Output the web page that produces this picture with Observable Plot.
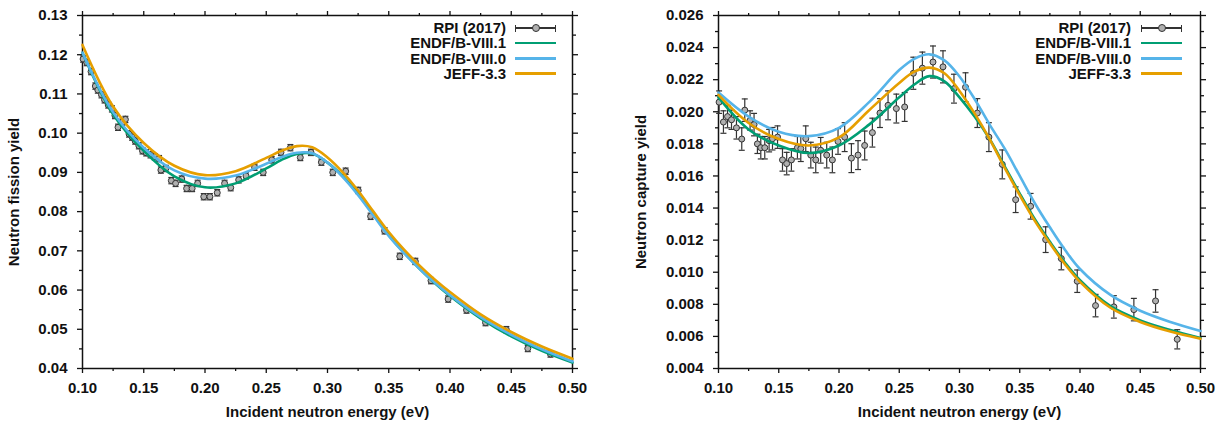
<!DOCTYPE html>
<html>
<head>
<meta charset="utf-8">
<script src="https://cdn.jsdelivr.net/npm/d3@7"></script>
<script src="https://cdn.jsdelivr.net/npm/@observablehq/plot@0.6"></script>
<style>
  body { margin: 0; background: #fff; font-family: "Liberation Sans", Arial, sans-serif; }
  #wrap { position: relative; width: 1217px; height: 421px; overflow: hidden; background: #fff; }
  .panel { position: absolute; top: 0; }
  .lg-text { position: absolute; width: 220px; text-align: right; font-weight: bold; font-size: 15px; line-height: 18px; color: #111; white-space: nowrap; }
  .lg-line { position: absolute; height: 2.6px; }
  .lg-bar { position: absolute; height: 1.2px; background: #333; }
  .lg-cap { position: absolute; width: 1.2px; height: 7px; background: #333; }
  .lg-dot { position: absolute; width: 6px; height: 6px; border-radius: 50%; background: #b0b0b0; border: 1px solid #333; }
</style>
</head>
<body>
<div id="wrap"></div>
<script>
// ---------- shared ----------
const seriesNames = ["RPI (2017)", "ENDF/B-VIII.1", "ENDF/B-VIII.0", "JEFF-3.3"];
const seriesColors = ["#333333", "#009E73", "#56B4E9", "#E69F00"];
const xTicks = [0.10, 0.15, 0.20, 0.25, 0.30, 0.35, 0.40, 0.45, 0.50];
const xMinorTicks = [0.125, 0.175, 0.225, 0.275, 0.325, 0.375, 0.425, 0.475];
const xLabel = "Incident neutron energy (eV)";
const curveEnergy = [0.10, 0.125, 0.15, 0.175, 0.20, 0.225, 0.25, 0.2625, 0.275, 0.2875, 0.30, 0.3125, 0.325, 0.3375, 0.35, 0.3625, 0.375, 0.3875, 0.40, 0.425, 0.45, 0.475, 0.50];

// ---------- fission panel ----------
const fissionTicks = [0.04, 0.05, 0.06, 0.07, 0.08, 0.09, 0.10, 0.11, 0.12, 0.13];
const fissionMinor = [0.045, 0.055, 0.065, 0.075, 0.085, 0.095, 0.105, 0.115, 0.125];
const fissionLabel = "Neutron fission yield";
const fissionE = [0.1005, 0.1035, 0.107, 0.1105, 0.1125, 0.1155, 0.118, 0.121, 0.124, 0.1265, 0.129, 0.1325, 0.135, 0.138, 0.1405, 0.143, 0.146, 0.149, 0.152, 0.1555, 0.159, 0.1625, 0.164, 0.168, 0.1725, 0.176, 0.181, 0.185, 0.1895, 0.194, 0.199, 0.204, 0.21, 0.216, 0.221, 0.2275, 0.2335, 0.2405, 0.2475, 0.2545, 0.262, 0.2697, 0.2778, 0.2865, 0.295, 0.3043, 0.3148, 0.3251, 0.3352, 0.3466, 0.359, 0.3717, 0.3845, 0.3985, 0.4135, 0.429, 0.446, 0.4635, 0.482];
const fissionY = [0.1189, 0.1180, 0.1157, 0.1120, 0.1110, 0.1098, 0.1085, 0.1072, 0.1062, 0.1045, 0.1015, 0.1028, 0.1035, 0.0998, 0.0990, 0.0980, 0.0968, 0.0955, 0.0950, 0.0945, 0.0940, 0.0935, 0.0906, 0.0910, 0.0879, 0.0872, 0.0883, 0.0859, 0.0859, 0.0872, 0.0838, 0.0838, 0.0848, 0.0872, 0.0861, 0.0881, 0.0891, 0.0913, 0.0900, 0.0932, 0.0951, 0.0963, 0.0938, 0.0951, 0.0926, 0.0900, 0.0903, 0.0854, 0.0788, 0.0751, 0.0686, 0.0673, 0.0624, 0.0577, 0.0549, 0.0517, 0.0499, 0.0451, 0.0437];
const fissionErr = [0.0008, 0.0008, 0.0008, 0.0008, 0.0008, 0.0008, 0.0008, 0.0008, 0.0008, 0.0008, 0.0008, 0.0008, 0.0008, 0.0008, 0.0008, 0.0008, 0.0008, 0.0008, 0.0008, 0.0008, 0.0008, 0.0008, 0.0008, 0.0008, 0.0008, 0.0008, 0.0008, 0.0008, 0.0008, 0.0008, 0.0008, 0.0008, 0.0008, 0.0008, 0.0008, 0.0008, 0.0008, 0.0008, 0.0008, 0.0008, 0.0008, 0.0008, 0.0008, 0.0008, 0.0008, 0.0008, 0.0008, 0.0008, 0.0008, 0.0008, 0.0008, 0.0008, 0.0008, 0.0008, 0.0008, 0.0008, 0.0008, 0.0008, 0.0008];
const fissionENDF81 = [0.1205, 0.1048, 0.0955, 0.0890, 0.0862, 0.0872, 0.0910, 0.0932, 0.0947, 0.0948, 0.0925, 0.0890, 0.0845, 0.0792, 0.0740, 0.0695, 0.0655, 0.0618, 0.0585, 0.0528, 0.0482, 0.0445, 0.0415];
const fissionENDF80 = [0.1205, 0.1053, 0.0963, 0.0905, 0.0884, 0.0892, 0.0922, 0.0939, 0.0950, 0.0949, 0.0925, 0.0888, 0.0842, 0.0790, 0.0738, 0.0694, 0.0655, 0.0619, 0.0587, 0.0531, 0.0486, 0.0449, 0.0418];
const fissionJEFF33 = [0.1225, 0.1068, 0.0975, 0.0917, 0.0893, 0.0903, 0.0937, 0.0955, 0.0967, 0.0964, 0.0938, 0.0900, 0.0853, 0.0800, 0.0748, 0.0703, 0.0663, 0.0627, 0.0595, 0.0538, 0.0493, 0.0456, 0.0425];

// ---------- capture panel ----------
const captureTicks = [0.004, 0.006, 0.008, 0.010, 0.012, 0.014, 0.016, 0.018, 0.020, 0.022, 0.024, 0.026];
const captureMinor = [0.005, 0.007, 0.009, 0.011, 0.013, 0.015, 0.017, 0.019, 0.021, 0.023, 0.025];
const captureLabel = "Neutron capture yield";
const captureE = [0.1005, 0.1041, 0.1075, 0.1108, 0.1149, 0.1193, 0.1218, 0.1262, 0.1295, 0.1323, 0.1351, 0.1384, 0.142, 0.1448, 0.149, 0.1531, 0.1566, 0.1605, 0.1655, 0.1683, 0.1724, 0.1766, 0.1807, 0.1848, 0.1898, 0.1945, 0.1992, 0.2047, 0.2103, 0.2158, 0.2213, 0.2277, 0.234, 0.2407, 0.2476, 0.2545, 0.2617, 0.2692, 0.278, 0.2863, 0.2954, 0.305, 0.3148, 0.3244, 0.3355, 0.3466, 0.359, 0.3715, 0.3845, 0.3977, 0.4129, 0.4281, 0.4447, 0.4627, 0.4807];
const captureY = [0.0206, 0.01936, 0.0197, 0.0195, 0.0190, 0.0183, 0.0201, 0.01946, 0.0192, 0.0180, 0.01776, 0.01776, 0.0182, 0.01832, 0.01842, 0.0170, 0.01677, 0.0170, 0.01776, 0.0177, 0.01832, 0.0173, 0.0170, 0.0176, 0.0173, 0.0170, 0.01815, 0.01842, 0.01711, 0.0173, 0.0179, 0.0187, 0.01992, 0.0204, 0.0202, 0.0203, 0.0224, 0.02272, 0.0231, 0.0228, 0.02144, 0.02153, 0.01992, 0.01842, 0.01672, 0.01452, 0.01411, 0.01203, 0.01085, 0.00944, 0.00792, 0.00784, 0.00767, 0.00821, 0.00582];
const captureErr = [0.0007, 0.0007, 0.0007, 0.0006, 0.0007, 0.0007, 0.0007, 0.0006, 0.0007, 0.0006, 0.0007, 0.0007, 0.0007, 0.0007, 0.0007, 0.0007, 0.0007, 0.0007, 0.0007, 0.0008, 0.0008, 0.0008, 0.0008, 0.0008, 0.0008, 0.0008, 0.0008, 0.0009, 0.0009, 0.0009, 0.0009, 0.0009, 0.0009, 0.0009, 0.0009, 0.0009, 0.0010, 0.0010, 0.0010, 0.0010, 0.0009, 0.0009, 0.0009, 0.0009, 0.0009, 0.0008, 0.0008, 0.0008, 0.0007, 0.0007, 0.0007, 0.0007, 0.0007, 0.0007, 0.0006];
const captureENDF81 = [0.0209, 0.0189, 0.0179, 0.01743, 0.0179, 0.0192, 0.0209, 0.0217, 0.02222, 0.0219, 0.0209, 0.0197, 0.0183, 0.0166, 0.0149, 0.0133, 0.0119, 0.0106, 0.0095, 0.0079, 0.0070, 0.0064, 0.0059];
const captureENDF80 = [0.0212, 0.0197, 0.01875, 0.01848, 0.0190, 0.0206, 0.0226, 0.0233, 0.02358, 0.0232, 0.0222, 0.0208, 0.0192, 0.0177, 0.0160, 0.0143, 0.0128, 0.0114, 0.0102, 0.0086, 0.0076, 0.0069, 0.00634];
const captureJEFF33 = [0.02105, 0.0193, 0.0183, 0.0179, 0.0184, 0.0201, 0.0218, 0.0225, 0.02275, 0.0224, 0.0213, 0.0199, 0.0183, 0.0165, 0.0148, 0.0132, 0.0118, 0.0105, 0.0094, 0.0078, 0.0069, 0.0063, 0.00585];

// ---------- drawing ----------
const capSymbol = { draw(ctx) { ctx.moveTo(-3, 0); ctx.lineTo(3, 0); } };
const noText = () => "";

function makePanel(cfg) {
  const pts = cfg.E.map((e, i) => ({ e, v: cfg.Y[i], err: cfg.err[i] }));
  const curves = cfg.curves.map((ys, k) => curveEnergy.map((e, i) => ({ e, v: ys[i], k })));
  const marks = [
    Plot.frame({ stroke: "#111", strokeWidth: 1.5 }),
    Plot.axisX({ ticks: xTicks, tickFormat: d3.format(".2f"), tickSize: 5, tickPadding: 9, strokeWidth: 1.3,
      label: xLabel, labelAnchor: "center", labelOffset: cfg.xLabelOffset, labelArrow: "none" }),
    Plot.axisX({ ticks: xMinorTicks, tickFormat: noText, tickSize: 3, strokeWidth: 1.3, label: null }),
    Plot.axisX({ anchor: "top", ticks: xTicks, tickFormat: noText, tickSize: 5, strokeWidth: 1.3, label: null }),
    Plot.axisX({ anchor: "top", ticks: xMinorTicks, tickFormat: noText, tickSize: 3, strokeWidth: 1.3, label: null }),
    Plot.axisY({ ticks: cfg.yTicks, tickFormat: d3.format(cfg.fmt), tickSize: 5, tickPadding: 10, strokeWidth: 1.3,
      label: cfg.yLabel, labelAnchor: "center", labelOffset: cfg.yLabelOffset, labelArrow: "none" }),
    Plot.axisY({ ticks: cfg.yMinor, tickFormat: noText, tickSize: 3, strokeWidth: 1.3, label: null }),
    Plot.axisY({ anchor: "right", ticks: cfg.yTicks, tickFormat: noText, tickSize: 5, strokeWidth: 1.3, label: null }),
    Plot.axisY({ anchor: "right", ticks: cfg.yMinor, tickFormat: noText, tickSize: 3, strokeWidth: 1.3, label: null }),
    Plot.ruleX(pts, { x: "e", y1: d => d.v - d.err, y2: d => d.v + d.err, stroke: "#333", strokeWidth: 1.2 }),
    Plot.dot(pts, { x: "e", y: d => d.v + d.err, symbol: capSymbol, stroke: "#333", strokeWidth: 1.2, fill: "none" }),
    Plot.dot(pts, { x: "e", y: d => d.v - d.err, symbol: capSymbol, stroke: "#333", strokeWidth: 1.2, fill: "none" }),
    Plot.dot(pts, { x: "e", y: "v", r: 3, fill: "#b0b0b0", stroke: "#333", strokeWidth: 1 }),
    ...curves.map((c, k) => Plot.line(c, { x: "e", y: "v", stroke: seriesColors[k + 1], strokeWidth: 2.6, curve: "catmull-rom" }))
  ];
  const svg = Plot.plot({
    width: cfg.width, height: 421,
    marginLeft: cfg.marginLeft, marginRight: cfg.marginRight, marginTop: 15, marginBottom: 53,
    style: { fontFamily: "'Liberation Sans', Arial, sans-serif", fontSize: "15px", fontWeight: "bold", color: "#111", background: "white", overflow: "visible" },
    x: { domain: [0.1, 0.5] },
    y: { domain: cfg.yDomain },
    marks
  });
  svg.classList.add("panel");
  svg.style.left = cfg.left + "px";
  return svg;
}

function addLegend(wrap, textRight, lineLeft, lineRight) {
  seriesNames.forEach((name, i) => {
    const cy = 28 + 15.2 * i;
    const t = document.createElement("div");
    t.className = "lg-text";
    t.textContent = name;
    t.style.left = (textRight - 220) + "px";
    t.style.top = (cy - 8.8) + "px";
    wrap.appendChild(t);
    if (i === 0) {
      const bar = document.createElement("div");
      bar.className = "lg-bar";
      bar.style.left = lineLeft + "px"; bar.style.width = (lineRight - lineLeft) + "px"; bar.style.top = (cy - 0.6) + "px";
      wrap.appendChild(bar);
      [lineLeft, lineRight - 1.2].forEach(x => {
        const c = document.createElement("div");
        c.className = "lg-cap"; c.style.left = x + "px"; c.style.top = (cy - 3.5) + "px";
        wrap.appendChild(c);
      });
      const d = document.createElement("div");
      d.className = "lg-dot";
      d.style.left = ((lineLeft + lineRight) / 2 - 4) + "px"; d.style.top = (cy - 4) + "px";
      wrap.appendChild(d);
    } else {
      const l = document.createElement("div");
      l.className = "lg-line";
      l.style.background = seriesColors[i];
      l.style.left = lineLeft + "px"; l.style.width = (lineRight - lineLeft) + "px"; l.style.top = (cy - 1.3) + "px";
      wrap.appendChild(l);
    }
  });
}

const wrap = document.getElementById("wrap");
wrap.appendChild(makePanel({
  left: 0, width: 610, marginLeft: 82, marginRight: 38,
  yDomain: [0.04, 0.13], yTicks: fissionTicks, yMinor: fissionMinor, fmt: ".2f", yLabel: fissionLabel,
  yLabelOffset: 74, xLabelOffset: 48,
  E: fissionE, Y: fissionY, err: fissionErr, curves: [fissionENDF81, fissionENDF80, fissionJEFF33]
}));
wrap.appendChild(makePanel({
  left: 610, width: 607, marginLeft: 108, marginRight: 17,
  yDomain: [0.004, 0.026], yTicks: captureTicks, yMinor: captureMinor, fmt: ".3f", yLabel: captureLabel,
  yLabelOffset: 83, xLabelOffset: 48,
  E: captureE, Y: captureY, err: captureErr, curves: [captureENDF81, captureENDF80, captureJEFF33]
}));
addLegend(wrap, 506, 515, 556);
addLegend(wrap, 1131, 1141, 1182);
</script>
</body>
</html>
